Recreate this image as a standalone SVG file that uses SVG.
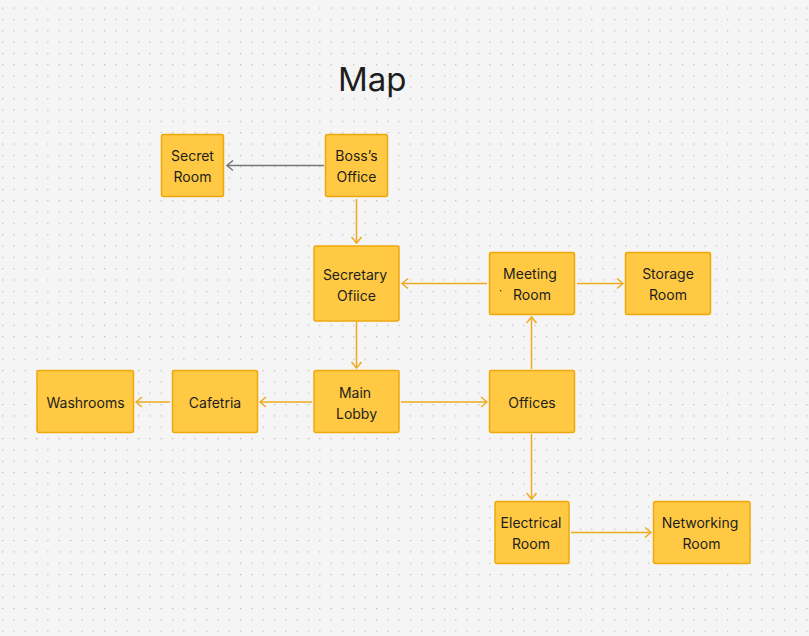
<svg xmlns="http://www.w3.org/2000/svg" width="809" height="636" viewBox="0 0 809 636">
<defs>
<pattern id="dots" x="2" y="7.5" width="11.33" height="11.33" patternUnits="userSpaceOnUse">
<rect x="0" y="0" width="1.2" height="1.2" fill="#b8b8b8"/>
</pattern>
<marker id="arr" viewBox="0 0 10 12" refX="8" refY="6" markerWidth="10" markerHeight="12" markerUnits="userSpaceOnUse" orient="auto">
<path d="M2,1 L8,6 L2,11" fill="none" stroke="#F0AA1E" stroke-width="1.5"/>
</marker>
<marker id="arrg" viewBox="0 0 10 12" refX="8" refY="6" markerWidth="10" markerHeight="12" markerUnits="userSpaceOnUse" orient="auto">
<path d="M2,1 L8,6 L2,11" fill="none" stroke="#777777" stroke-width="1.5"/>
</marker>
</defs>
<style>
.node rect{fill:#FFC943;stroke:#EEA80C;stroke-width:1.5}
.node text{font-family:Inter,"Noto Sans","Liberation Sans",sans-serif;font-size:14px;font-weight:400;fill:#1e1e1e;text-anchor:middle}
.edge{fill:none;stroke:#F0AA1E;stroke-width:1.5}
.edge.gray{stroke:#777777}
.title{font-family:Inter,"Noto Sans","Liberation Sans",sans-serif;font-size:33px;font-weight:400;fill:#1e1e1e}
</style>
<rect width="809" height="636" fill="#f5f5f5"/>
<rect width="809" height="636" fill="url(#dots)"/>
<text class="title" x="338" y="91">Map</text>
<g id="connectors">
<line class="edge gray" x1="324" y1="165.5" x2="227" y2="165.5" marker-end="url(#arrg)"/>
<line class="edge" x1="356.5" y1="199" x2="356.5" y2="243" marker-end="url(#arr)"/>
<line class="edge" x1="487" y1="283.5" x2="402" y2="283.5" marker-end="url(#arr)"/>
<line class="edge" x1="577" y1="283.5" x2="623" y2="283.5" marker-end="url(#arr)"/>
<line class="edge" x1="356.5" y1="322" x2="356.5" y2="368" marker-end="url(#arr)"/>
<line class="edge" x1="531.5" y1="369" x2="531.5" y2="317" marker-end="url(#arr)"/>
<line class="edge" x1="312" y1="402" x2="260" y2="402" marker-end="url(#arr)"/>
<line class="edge" x1="170" y1="402" x2="136" y2="402" marker-end="url(#arr)"/>
<line class="edge" x1="401" y1="402" x2="487" y2="402" marker-end="url(#arr)"/>
<line class="edge" x1="531.5" y1="434" x2="531.5" y2="499" marker-end="url(#arr)"/>
<line class="edge" x1="571" y1="532.5" x2="651" y2="532.5" marker-end="url(#arr)"/>
</g>
<g id="secret-room" class="node">
<rect x="161.5" y="134.5" width="62" height="62" rx="2"/>
<text x="192.5" y="161">Secret</text><text x="192.5" y="182">Room</text>
</g>
<g id="boss-office" class="node">
<rect x="325.5" y="134.5" width="62" height="62" rx="2"/>
<text x="356.5" y="161">Boss’s</text><text x="356.5" y="182">Office</text>
</g>
<g id="secretary-office" class="node">
<rect x="314" y="246" width="85" height="75" rx="2"/>
<text x="355" y="280">Secretary</text><text x="356.5" y="301">Ofiice</text>
</g>
<g id="meeting-room" class="node">
<rect x="489.5" y="252.5" width="85" height="62" rx="2"/>
<text x="530" y="279">Meeting</text><text x="532" y="300">Room</text>
<circle cx="500.7" cy="290.7" r="0.8" fill="#333"/>
</g>
<g id="storage-room" class="node">
<rect x="625.5" y="252.5" width="85" height="62" rx="2"/>
<text x="668" y="279">Storage</text><text x="668" y="300">Room</text>
</g>
<g id="washrooms" class="node">
<rect x="37" y="370.5" width="96.5" height="62" rx="2"/>
<text x="85.5" y="407.5">Washrooms</text>
</g>
<g id="cafetria" class="node">
<rect x="172.5" y="370.5" width="85" height="62" rx="2"/>
<text x="215" y="407.5">Cafetria</text>
</g>
<g id="main-lobby" class="node">
<rect x="314" y="370.5" width="85" height="62" rx="2"/>
<text x="355" y="398">Main</text><text x="356.5" y="419">Lobby</text>
</g>
<g id="offices" class="node">
<rect x="489.5" y="370.5" width="85" height="62" rx="2"/>
<text x="532" y="407.5">Offices</text>
</g>
<g id="electrical-room" class="node">
<rect x="495" y="501.5" width="74" height="62" rx="2"/>
<text x="531" y="528">Electrical</text><text x="531" y="549">Room</text>
</g>
<g id="networking-room" class="node">
<rect x="653.5" y="501.5" width="96.5" height="62" rx="2"/>
<text x="700" y="528">Networking</text><text x="701.5" y="549">Room</text>
</g>
</svg>
